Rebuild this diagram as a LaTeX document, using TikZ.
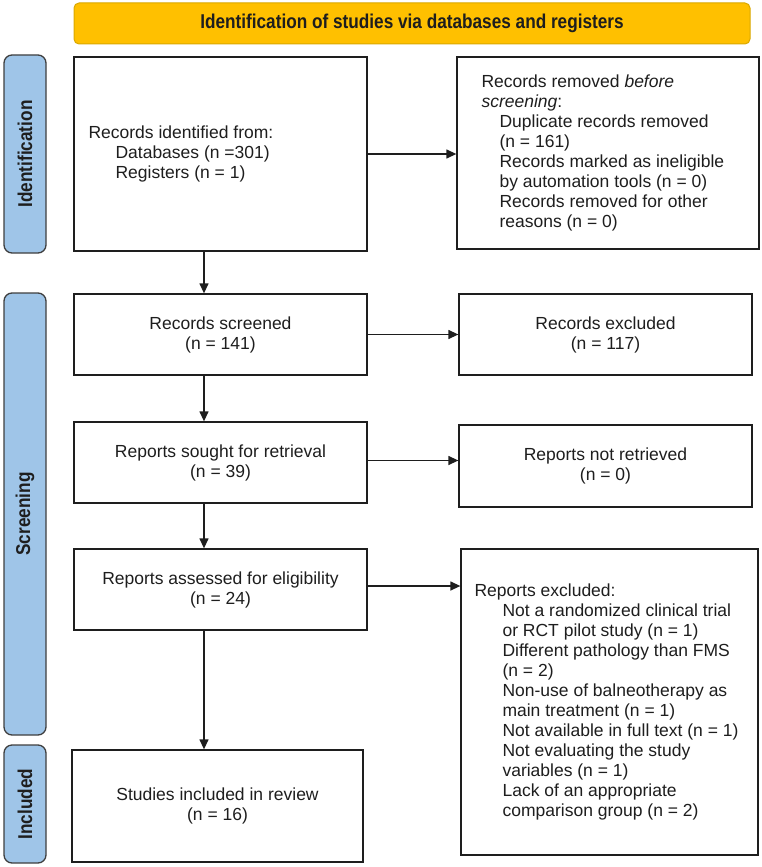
\documentclass[tikz,border=0pt]{standalone}
\usepackage{fontspec}
\setmainfont{Liberation Sans}
\newfontfamily\narrowfont[FakeStretch=0.86]{Liberation Sans}
\usetikzlibrary{arrows.meta}
\definecolor{titlefill}{HTML}{FFC000}
\definecolor{titledraw}{HTML}{D9A800}
\definecolor{sidefill}{HTML}{9FC5E8}
\definecolor{sidedraw}{HTML}{3F3F3F}
\definecolor{ink}{HTML}{1E1E1E}
\tikzset{
  box/.style={draw=ink, line width=1.3pt, fill=white, inner sep=0pt},
  sidebar/.style={draw=sidedraw, line width=1.3pt, fill=sidefill, rounded corners=8pt, inner sep=0pt},
  sidelabel/.style={rotate=90, font=\narrowfont\bfseries\fontsize{20pt}{22pt}\selectfont, text=ink},
  body/.style={font=\fontsize{17.5pt}{20pt}\selectfont, text=ink, inner sep=0pt},
  bodyc/.style={body, align=center},
  bodyl/.style={body, align=left},
  arr/.style={draw=ink, line width=1.3pt, -{Triangle[length=10pt,width=9pt]}},
}
\newcommand{\ind}[1]{\hspace*{#1}}
\begin{document}
\begin{tikzpicture}[x=1pt,y=-1pt]
\useasboundingbox (0,0) rectangle (762,867);
% title
\node[draw=titledraw, line width=1pt, fill=titlefill, rounded corners=5pt, minimum width=676pt, minimum height=41pt, inner sep=0pt,
  font=\narrowfont\bfseries\fontsize{20pt}{22pt}\selectfont, text=ink] (title) at (412,23.5) {Identification of studies via databases and registers};
% sidebars
\node[sidebar, minimum width=42pt, minimum height=198pt] (s1) at (25,154) {};
\node[sidelabel] (s1t) at (s1.center) {Identification};
\node[sidebar, minimum width=42pt, minimum height=442pt] (s2) at (25,514) {};
\node[sidelabel] (s2t) at (s2.center) {Screening};
\node[sidebar, minimum width=42pt, minimum height=118pt] (s3) at (25,804) {};
\node[sidelabel] (s3t) at (s3.center) {Included};
% boxes
\node[box, minimum width=293pt, minimum height=194pt] (box1) at (220.5,154) {};
\node[bodyl, anchor=west] (box1t) at ([xshift=15pt]box1.west) {Records identified from:\\\ind{27pt}Databases (n =301)\\\ind{27pt}Registers (n = 1)};
\node[box, minimum width=302pt, minimum height=192pt] (rem) at (608,153) {};
\node[bodyl, anchor=west] (remt) at ([xshift=25pt]rem.west) {Records removed \textit{before}\\\textit{screening}:\\\ind{18pt}Duplicate records removed\\\ind{18pt}(n = 161)\\\ind{18pt}Records marked as ineligible\\\ind{18pt}by automation tools (n = 0)\\\ind{18pt}Records removed for other\\\ind{18pt}reasons (n = 0)};
\node[box, minimum width=293pt, minimum height=81pt, bodyc] (scr) at (220.5,334.5) {Records screened\\(n = 141)};
\node[box, minimum width=293pt, minimum height=81pt, bodyc] (exc) at (605.5,334.5) {Records excluded\\(n = 117)};
\node[box, minimum width=293pt, minimum height=81pt, bodyc] (sought) at (220.5,462.5) {Reports sought for retrieval\\(n = 39)};
\node[box, minimum width=293pt, minimum height=82pt, bodyc] (notret) at (605.5,466) {Reports not retrieved\\(n = 0)};
\node[box, minimum width=293pt, minimum height=81pt, bodyc] (assess) at (220.5,589.5) {Reports assessed for eligibility\\(n = 24)};
\node[box, minimum width=297pt, minimum height=306pt] (repexc) at (609.5,702) {};
\node[bodyl, anchor=west] (repexct) at ([xshift=14pt]repexc.west) {Reports excluded:\\\ind{28pt}Not a randomized clinical trial\\\ind{28pt}or RCT pilot study (n = 1)\\\ind{28pt}Different pathology than FMS\\\ind{28pt}(n = 2)\\\ind{28pt}Non-use of balneotherapy as\\\ind{28pt}main treatment (n = 1)\\\ind{28pt}Not available in full text (n = 1)\\\ind{28pt}Not evaluating the study\\\ind{28pt}variables (n = 1)\\\ind{28pt}Lack of an appropriate\\\ind{28pt}comparison group (n = 2)};
\node[box, minimum width=291pt, minimum height=112pt, bodyc] (incl) at (217.5,806) {Studies included in review\\(n = 16)};
% arrows
\coordinate (cx) at (204,0);
\draw[arr] (box1.south -| cx) -- (scr.north -| cx);
\draw[arr] (scr.south -| cx) -- (sought.north -| cx);
\draw[arr] (sought.south -| cx) -- (assess.north -| cx);
\draw[arr] (assess.south -| cx) -- (incl.north -| cx);
\draw[arr] (box1.east) -- (box1.east -| rem.west);
\draw[arr] (scr.east) -- (scr.east -| exc.west);
\draw[arr] ([yshift=2pt]sought.east) -- ([yshift=2pt]sought.east -| notret.west);
\draw[arr] ([yshift=3.5pt]assess.east) -- ([yshift=3.5pt]assess.east -| repexc.west);
\end{tikzpicture}
\end{document}
